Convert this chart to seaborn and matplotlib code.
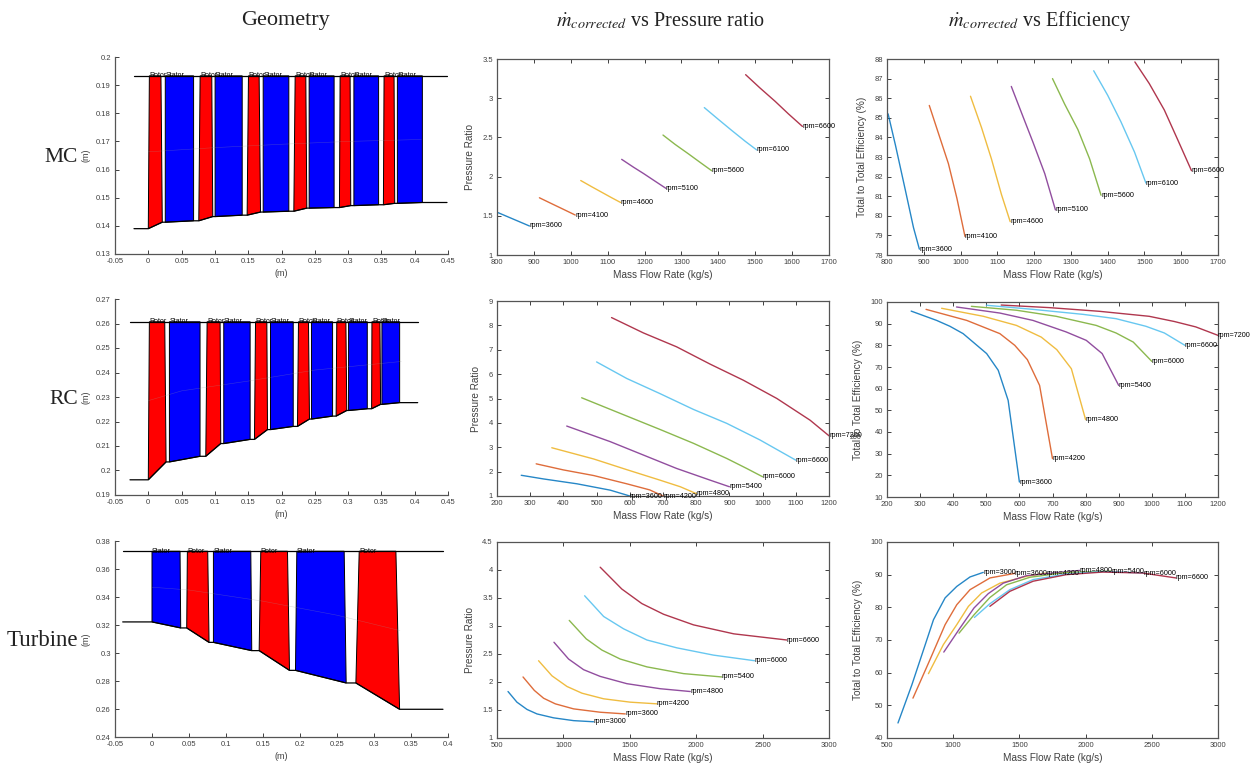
import matplotlib
matplotlib.use("Agg")
import matplotlib.pyplot as plt
import seaborn as sns

sns.set_style("ticks")
plt.rcParams['font.family'] = ['Liberation Sans', 'DejaVu Sans']
plt.rcParams['mathtext.fontset'] = 'stix'

W, H = 1253, 767
MATLAB = ['#0072BD', '#D95319', '#EDB120', '#7E2F8E', '#77AC30', '#4DBEEE', '#A2142F']
GREY = '#404040'

# ---- geometry data: one entry per blade row
MC_KIND = ['Rotor', 'Stator'] * 6
MC_HUB_X1 = [0, .0255, .0758, .1003, .1484, .1725, .2185, .2415, .287, .3087, .353, .374]
MC_HUB_X2 = [.021, .068, .0968, .141, .1685, .211, .238, .279, .304, .3458, .37, .4115]
MC_TIP_X1 = [.0016, .0255, .0778, .1003, .1504, .1725, .2205, .2415, .288, .3087, .354, .374]
MC_TIP_X2 = [.019, .068, .0953, .141, .1664, .211, .2365, .279, .303, .3458, .369, .4115]
MC_HUB_Y1 = [.139, .1413, .1418, .1433, .1438, .1449, .1452, .1463, .1465, .1472, .1475, .148]
MC_HUB_Y2 = [.1413, .1418, .1433, .1438, .1449, .1452, .1463, .1465, .1472, .1475, .148, .1483]
MC_TIP = .1933
MC_ENDS = [-.0215, .4485]
MC_MEAN_X = [0, .1, .2, .3, .41]
MC_MEAN_Y = [.1663, .1678, .169, .17, .1707]

RC_KIND = ['Rotor', 'Stator'] * 6
RC_HUB_X1 = [0, .0317, .0863, .1133, .1594, .1835, .224, .245, .282, .3007, .3353, .3508]
RC_HUB_X2 = [.0267, .0777, .1088, .1529, .179, .2176, .242, .2767, .298, .3288, .3488, .3774]
RC_TIP_X1 = [.0016, .0317, .0883, .1133, .161, .1835, .2255, .245, .283, .3007, .3358, .3508]
RC_TIP_X2 = [.0247, .0777, .1078, .1529, .178, .2176, .2405, .2767, .2967, .3288, .3478, .3774]
RC_HUB_Y1 = [.1962, .2035, .2058, .211, .2127, .2167, .218, .221, .2222, .2245, .2252, .227]
RC_HUB_Y2 = [.2035, .2058, .211, .2127, .2167, .218, .221, .2222, .2245, .2252, .227, .2277]
RC_TIP = .2607
RC_ENDS = [-.0275, .4045]
RC_MEAN_X = [0, .05, .15, .25, .38]
RC_MEAN_Y = [.2285, .2325, .2365, .241, .2445]

TU_KIND = ['Stator', 'Rotor'] * 3
TU_HUB_X1 = [0, .0469, .083, .1448, .1939, .2755]
TU_HUB_X2 = [.0388, .0771, .1348, .1858, .2624, .3346]
TU_TIP_X1 = [0, .0478, .083, .147, .1957, .28]
TU_TIP_X2 = [.0379, .0753, .1335, .1831, .2597, .3296]
TU_HUB_Y1 = [.3222, .3179, .3076, .3017, .2876, .2786]
TU_HUB_Y2 = [.3179, .3076, .3017, .2876, .2786, .2598]
TU_TIP = .3727
TU_ENDS = [-.0396, .3932]
TU_MEAN_X = [0, .05, .15, .25, .335]
TU_MEAN_Y = [.347, .345, .337, .327, .316]

# ---- performance data
MC_RPM = [3600, 4100, 4600, 5100, 5600, 6100, 6600]
MC_X = [[803, 823, 850, 872, 888], [915, 940, 967, 990, 1012], [1027, 1057, 1084, 1111, 1135],
        [1138, 1170, 1197, 1229, 1258], [1250, 1283, 1319, 1351, 1382],
        [1362, 1400, 1436, 1473, 1504], [1474, 1513, 1554, 1590, 1628]]
MC_PR = [[1.54, 1.50, 1.446, 1.402, 1.37], [1.73, 1.673, 1.612, 1.56, 1.51], [1.95, 1.87, 1.80, 1.73, 1.67],
         [2.22, 2.12, 2.04, 1.94, 1.85], [2.53, 2.41, 2.29, 2.18, 2.075],
         [2.88, 2.73, 2.59, 2.45, 2.34], [3.3, 3.13, 2.96, 2.80, 2.64]]
MC_EFF = [[85.2, 83.6, 81.3, 79.4, 78.3], [85.63, 84.2, 82.66, 80.9, 78.95], [86.1, 84.5, 82.9, 81.1, 79.7],
          [86.6, 85.05, 83.75, 82.15, 80.3], [87.0, 85.7, 84.4, 82.9, 81.05],
          [87.4, 86.15, 84.8, 83.25, 81.67], [87.85, 86.75, 85.4, 83.9, 82.3]]

RC_RPM = [3600, 4200, 4800, 5400, 6000, 6600, 7200]
RC_PR_X = [[273, 340, 441, 541, 600], [318, 400, 491, 591, 660, 700], [365, 491, 591, 691, 752, 800],
           [410, 541, 641, 741, 842, 900], [455, 591, 691, 792, 892, 952, 1000],
           [500, 591, 691, 792, 892, 992, 1100], [545, 641, 741, 842, 942, 1043, 1143, 1200]]
RC_PR = [[1.85, 1.70, 1.50, 1.24, 1.0], [2.32, 2.07, 1.84, 1.50, 1.25, 1.0], [2.98, 2.52, 2.08, 1.65, 1.38, 1.1],
         [3.87, 3.23, 2.68, 2.13, 1.65, 1.38], [5.03, 4.28, 3.73, 3.16, 2.54, 2.13, 1.79],
         [6.5, 5.82, 5.2, 4.55, 3.98, 3.3, 2.47], [8.32, 7.69, 7.12, 6.41, 5.75, 5.0, 4.11, 3.47]]
RC_EFF_X = [[273, 350, 390, 430, 501, 536, 566, 600], [318, 441, 541, 586, 624, 661, 700],
            [365, 491, 591, 666, 713, 757, 800], [410, 541, 641, 741, 802, 850, 900],
            [455, 591, 711, 832, 892, 944, 1000], [500, 641, 792, 892, 982, 1038, 1100],
            [545, 691, 842, 992, 1068, 1133, 1200]]
RC_EFF = [[95.8, 91.5, 88.8, 85.4, 76.2, 68.5, 54.6, 16.9], [96.6, 91.5, 85.4, 80, 73.4, 61.5, 27.7],
          [97.1, 93.4, 89.2, 83.8, 78, 69.2, 45.7], [97.7, 94.9, 91.5, 86.2, 82.3, 76.2, 61.5],
          [98, 96.2, 93.4, 89.2, 85.7, 81.5, 72.6], [98.5, 96.6, 94.3, 92.3, 88.8, 85.7, 80],
          [98.6, 97.4, 95.7, 93.4, 91, 88.5, 84.6]]

TU_RPM = [3000, 3600, 4200, 4800, 5400, 6000, 6600]
TU_PR_X = [[583, 650, 726, 801, 926, 1077, 1227], [696, 781, 851, 939, 1077, 1278, 1466],
           [813, 914, 1027, 1140, 1303, 1503, 1704], [929, 1039, 1152, 1277, 1478, 1729, 1955],
           [1044, 1172, 1290, 1428, 1629, 1904, 2193], [1160, 1303, 1453, 1629, 1854, 2130, 2439],
           [1277, 1440, 1591, 1754, 1980, 2283, 2682]]
TU_PR = [[1.83, 1.64, 1.51, 1.43, 1.36, 1.31, 1.29], [2.09, 1.85, 1.71, 1.61, 1.52, 1.46, 1.43],
         [2.38, 2.11, 1.92, 1.80, 1.70, 1.64, 1.61], [2.71, 2.41, 2.22, 2.10, 1.97, 1.88, 1.83],
         [3.10, 2.77, 2.57, 2.41, 2.27, 2.15, 2.09], [3.54, 3.17, 2.95, 2.75, 2.61, 2.48, 2.38],
         [4.05, 3.66, 3.40, 3.21, 3.02, 2.86, 2.75]]
TU_EFF_X = [[583, 688, 789, 851, 939, 1027, 1127, 1227], [696, 814, 939, 1027, 1127, 1278, 1466],
            [813, 926, 1027, 1115, 1215, 1353, 1554, 1704], [929, 1052, 1157, 1265, 1378, 1554, 1955],
            [1044, 1157, 1277, 1403, 1579, 1854, 2193], [1160, 1277, 1428, 1604, 1854, 2130, 2439],
            [1277, 1428, 1604, 1854, 2130, 2431, 2682]]
TU_EFF = [[44.6, 56.3, 68.6, 76.2, 82.9, 86.4, 89.3, 90.7], [52.2, 63, 74.7, 80.8, 85.4, 89, 90.4],
          [59.7, 68.6, 74.7, 80.3, 84.4, 87.4, 89.5, 90.5], [66.3, 73.7, 79.8, 84.2, 87.4, 89.7, 91.3],
          [72.1, 77.7, 83, 86.9, 89.2, 90.7, 91.1], [76.9, 81.1, 85.4, 88.5, 90.2, 91, 90.5],
          [80.3, 84.9, 88, 90, 90.8, 90.5, 89]]

# ---- ticks
GEO_XT = [-.05, 0, .05, .1, .15, .2, .25, .3, .35, .4, .45]
TU_GEO_XT = [-.05, 0, .05, .1, .15, .2, .25, .3, .35, .4]
MC_GEO_YT = [.13, .14, .15, .16, .17, .18, .19, .2]
RC_GEO_YT = [.19, .2, .21, .22, .23, .24, .25, .26, .27]
TU_GEO_YT = [.24, .26, .28, .3, .32, .34, .36, .38]

fig = plt.figure(figsize=(W / 100, H / 100), dpi=100)


def make_axes(left, top, right, bottom):
    return fig.add_axes([left / W, 1 - bottom / H, (right - left) / W, (bottom - top) / H])


def style(ax, xt, yt, box):
    ax.set_xlim(xt[0], xt[-1])
    ax.set_ylim(yt[0], yt[-1])
    ax.set_xticks(xt, [f'{v:g}' for v in xt])
    ax.set_yticks(yt, [f'{v:g}' for v in yt])
    ax.tick_params(direction='in', length=3, width=0.7, labelsize=5.5, colors=GREY,
                   top=box, right=box, pad=3)
    for name, sp in ax.spines.items():
        sp.set_linewidth(0.9)
        sp.set_color('#555555')
        sp.set_visible(box or name in ('left', 'bottom'))


def draw_geometry(ax, kind, hx1, hx2, tx1, tx2, hy1, hy2, tip, ends, mean_x, mean_y):
    for i, k in enumerate(kind):
        col = 'red' if k == 'Rotor' else 'blue'
        ax.fill([tx1[i], hx1[i], hx2[i], tx2[i]], [tip, hy1[i], hy2[i], tip],
                facecolor=col, edgecolor='black', linewidth=0.7, zorder=2)
        ax.text(tx1[i], tip, k, fontsize=5, color='black', va='center', ha='left', zorder=4)
    hub_x, hub_y = [ends[0]], [hy1[0]]
    for i in range(len(kind)):
        hub_x += [hx1[i], hx2[i]]
        hub_y += [hy1[i], hy2[i]]
    hub_x.append(ends[1])
    hub_y.append(hy2[-1])
    sns.lineplot(x=hub_x, y=hub_y, color='black', linewidth=0.9, sort=False, estimator=None, ax=ax, zorder=3)
    sns.lineplot(x=ends, y=[tip, tip], color='black', linewidth=0.9, sort=False, estimator=None, ax=ax, zorder=3)
    sns.lineplot(x=mean_x, y=mean_y, color='#999999', linewidth=0.4, alpha=0.35, sort=False,
                 estimator=None, ax=ax, zorder=3)


def draw_curves(ax, xs, ys, rpm):
    for i, r in enumerate(rpm):
        sns.lineplot(x=xs[i], y=ys[i], color=MATLAB[i], linewidth=1.0, alpha=0.85, sort=False,
                     estimator=None, ax=ax)
        ax.text(xs[i][-1], ys[i][-1], f'rpm={r}', fontsize=5.2, color='black', va='center', ha='left',
                clip_on=False, zorder=5)


def labels(ax, xlabel, ylabel, ylab_x, size):
    ax.set_xlabel(xlabel, fontsize=size, color=GREY)
    ax.set_ylabel(ylabel, fontsize=size, color=GREY)
    ax.xaxis.set_label_coords(0.5, -0.077)
    ax.yaxis.set_label_coords(ylab_x, 0.5)


MF = 'Mass Flow Rate (kg/s)'
PRL = 'Pressure Ratio'
EFL = 'Total to Total Efficiency (%)'

# geometry column
ax = make_axes(115, 57, 448, 254)
draw_geometry(ax, MC_KIND, MC_HUB_X1, MC_HUB_X2, MC_TIP_X1, MC_TIP_X2, MC_HUB_Y1, MC_HUB_Y2, MC_TIP, MC_ENDS, MC_MEAN_X, MC_MEAN_Y)
style(ax, GEO_XT, MC_GEO_YT, False)
labels(ax, '(m)', '(m)', -0.075, 6.5)

ax = make_axes(115, 299, 448, 495)
draw_geometry(ax, RC_KIND, RC_HUB_X1, RC_HUB_X2, RC_TIP_X1, RC_TIP_X2, RC_HUB_Y1, RC_HUB_Y2, RC_TIP, RC_ENDS, RC_MEAN_X, RC_MEAN_Y)
style(ax, GEO_XT, RC_GEO_YT, False)
labels(ax, '(m)', '(m)', -0.075, 6.5)

ax = make_axes(115, 541, 448, 737)
draw_geometry(ax, TU_KIND, TU_HUB_X1, TU_HUB_X2, TU_TIP_X1, TU_TIP_X2, TU_HUB_Y1, TU_HUB_Y2, TU_TIP, TU_ENDS, TU_MEAN_X, TU_MEAN_Y)
style(ax, TU_GEO_XT, TU_GEO_YT, False)
labels(ax, '(m)', '(m)', -0.075, 6.5)

# pressure ratio column
ax = make_axes(497, 59, 829, 255)
draw_curves(ax, MC_X, MC_PR, MC_RPM)
style(ax, list(range(800, 1701, 100)), [1, 1.5, 2, 2.5, 3, 3.5], True)
labels(ax, MF, PRL, -0.066, 7.2)

ax = make_axes(497, 301, 829, 496)
draw_curves(ax, RC_PR_X, RC_PR, RC_RPM)
style(ax, list(range(200, 1201, 100)), list(range(1, 10)), True)
labels(ax, MF, PRL, -0.048, 7.2)

ax = make_axes(497, 542, 829, 738)
draw_curves(ax, TU_PR_X, TU_PR, TU_RPM)
style(ax, list(range(500, 3001, 500)), [1, 1.5, 2, 2.5, 3, 3.5, 4, 4.5], True)
labels(ax, MF, PRL, -0.066, 7.2)

# efficiency column
ax = make_axes(887, 59, 1218, 255)
draw_curves(ax, MC_X, MC_EFF, MC_RPM)
style(ax, list(range(800, 1701, 100)), list(range(78, 89)), True)
labels(ax, MF, EFL, -0.06, 7.2)

ax = make_axes(887, 302, 1218, 497)
draw_curves(ax, RC_EFF_X, RC_EFF, RC_RPM)
style(ax, list(range(200, 1201, 100)), list(range(10, 101, 10)), True)
labels(ax, MF, EFL, -0.072, 7.2)

ax = make_axes(887, 542, 1218, 738)
draw_curves(ax, TU_EFF_X, TU_EFF, TU_RPM)
style(ax, list(range(500, 3001, 500)), list(range(40, 101, 10)), True)
labels(ax, MF, EFL, -0.072, 7.2)

# headings and row names
serif = ['Liberation Serif', 'DejaVu Serif']
mdot = r'$\dot{m}_{corrected}$'
fig.text(285 / W, 1 - 21 / H, 'Geometry', family=serif, fontsize=16, ha='center', va='center', color='#222222')
fig.text(660 / W, 1 - 21 / H, mdot + ' vs Pressure ratio', family=serif, fontsize=14.5, ha='center', va='center', color='#222222')
fig.text(1040 / W, 1 - 21 / H, mdot + ' vs Efficiency', family=serif, fontsize=14.5, ha='center', va='center', color='#222222')
fig.text(78 / W, 1 - 157 / H, 'MC', family=serif, fontsize=15.5, ha='right', va='center', color='#222222')
fig.text(78 / W, 1 - 399 / H, 'RC', family=serif, fontsize=15.5, ha='right', va='center', color='#222222')
fig.text(78 / W, 1 - 640 / H, 'Turbine', family=serif, fontsize=16.5, ha='right', va='center', color='#222222')
fig.text(855 / W, 1 - 437 / H, '200', fontsize=5, ha='center', va='center', color=GREY)

plt.savefig('out.png', dpi=100)
plt.close()
